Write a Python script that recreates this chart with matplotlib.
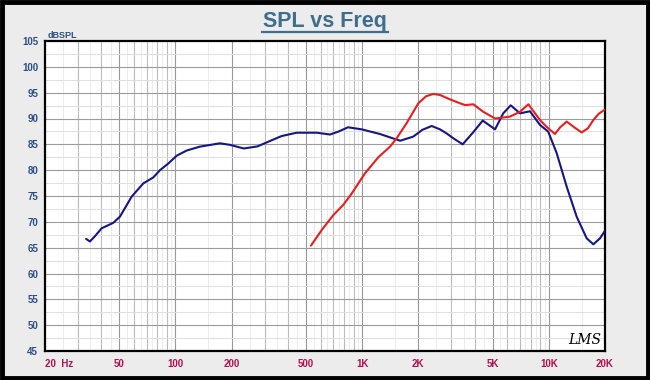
import matplotlib
matplotlib.use("Agg")
import matplotlib.pyplot as plt
import numpy as np
from matplotlib.lines import Line2D
from matplotlib.patches import Rectangle

# ---- data ----
woofer_freq = [33.2, 34.8, 37, 40.2, 46.4, 50.4, 58.3, 67.3, 76.1, 82.6, 91.6, 101.5,
               114.8, 135, 173, 196, 232, 275, 321, 370, 446, 571, 673, 750, 840, 994,
               1246, 1450, 1600, 1880, 2100, 2358, 2613, 2838, 3100, 3456, 3950, 4425,
               5152, 5700, 6250, 7010, 7930, 8970, 9930, 11020, 12470, 14100, 15960,
               17320, 18800, 20000]
woofer_db = [66.7, 66.2, 67.2, 68.75, 69.8, 71.0, 74.9, 77.45, 78.6, 80.0, 81.3, 82.8,
             83.8, 84.55, 85.2, 84.9, 84.2, 84.6, 85.65, 86.6, 87.25, 87.25, 86.9, 87.5,
             88.3, 87.9, 87.0, 86.2, 85.7, 86.5, 87.8, 88.55, 87.9, 87.1, 86.1, 85.0,
             87.4, 89.6, 87.9, 91.0, 92.55, 91.0, 91.4, 88.75, 87.45, 83.3, 76.8, 71.0,
             66.8, 65.65, 66.8, 68.3]

tweeter_freq = [532, 607, 701, 793, 880, 1036, 1221, 1410, 1532, 1731, 2000, 2200, 2406,
                2613, 2955, 3343, 3557, 3941, 4457, 5152, 6180, 7010, 7770, 8970, 9720,
                10790, 11500, 12470, 13800, 15000, 16200, 17320, 18500, 19800, 20000]
tweeter_db = [65.4, 68.4, 71.3, 73.3, 75.5, 79.4, 82.5, 84.55, 86.2, 89.1, 92.95, 94.3,
              94.75, 94.55, 93.7, 92.95, 92.6, 92.75, 91.3, 90.0, 90.35, 91.3, 92.75,
              89.7, 88.4, 87.0, 88.3, 89.4, 88.2, 87.3, 88.1, 89.7, 90.9, 91.65, 91.7]

x_ticks = [20, 50, 100, 200, 500, 1000, 2000, 5000, 10000, 20000]
x_labels = ["20  Hz", "50", "100", "200", "500", "1K", "2K", "5K", "10K", "20K"]
y_ticks = list(range(45, 106, 5))

# ---- figure ----
W, H = 650, 380
fig = plt.figure(figsize=(W / 100, H / 100), dpi=100, facecolor="#ECECEC")
fig.add_artist(Rectangle((0.003, 0.004), 0.994, 0.992, transform=fig.transFigure,
                         fill=False, edgecolor="black", linewidth=3.5))

ax = fig.add_axes([45 / W, 1 - 351 / H, 560 / W, 310 / H])
ax.set_facecolor("white")
ax.set_xscale("log")
ax.set_xlim(20, 20000)
ax.set_ylim(45, 105)

# grid
for dec in [10, 100, 1000, 10000]:
    for n in np.arange(1.5, 10, 1.0):
        f = n * dec
        if 20 < f < 20000:
            ax.axvline(f, color="#ececec", lw=0.7, zorder=0)
    for n in range(1, 10):
        f = n * dec
        if 20 < f < 20000:
            c = "#999999" if n in (1, 2, 5) else "#bdbdbd"
            ax.axvline(f, color=c, lw=0.8, zorder=0)
for y in np.arange(47.5, 105, 5):
    ax.axhline(y, color="#e0e0e0", lw=0.7, zorder=0)
for y in range(50, 105, 5):
    ax.axhline(y, color="#9c9c9c", lw=0.8, zorder=0)

ax.plot(woofer_freq, woofer_db, color="#16168a", lw=1.5, zorder=3,
        solid_joinstyle="round", solid_capstyle="round")
ax.plot(tweeter_freq, tweeter_db, color="#ee1c1c", lw=1.5, zorder=4,
        solid_joinstyle="round", solid_capstyle="round")

for s in ax.spines.values():
    s.set_color("black")
    s.set_linewidth(1.6)

ax.set_xticks(x_ticks)
ax.set_xticklabels(x_labels)
ax.xaxis.set_minor_locator(matplotlib.ticker.NullLocator())
ax.set_yticks(y_ticks)
ax.tick_params(axis="both", length=0)
ax.tick_params(axis="x", pad=6, labelsize=7, labelcolor="#b5104e")
ax.tick_params(axis="y", pad=5, labelsize=7, labelcolor="#2c4f86")
for lab in ax.get_xticklabels():
    lab.set_fontweight("bold")
    lab.set_family("Liberation Sans")
for lab in ax.get_yticklabels():
    lab.set_fontweight("bold")
    lab.set_family("Liberation Sans")
ax.get_xticklabels()[0].set_horizontalalignment("left")

# y axis unit label
fig.text(48 / W, 1 - 36 / H, "dBSPL", fontsize=6.5, fontweight="bold",
         color="#2c4f86", family="Liberation Sans", ha="left", va="center")

# title with underline
t = fig.text(0.5, 1 - 21 / H, "SPL vs Freq", fontsize=15.5, fontweight="bold",
             color="#3f6e8c", family="Liberation Sans", ha="center", va="center")
fig.add_artist(Line2D([262 / W, 388 / W], [1 - 32 / H, 1 - 32 / H],
                      transform=fig.transFigure, color="#3f6e8c", lw=1.6))

# signature
fig.text(585 / W, 1 - 340 / H, "LMS", fontsize=10, fontstyle="italic",
         family="DejaVu Serif", color="black", ha="center", va="center")

fig.savefig("out.png", dpi=100, facecolor=fig.get_facecolor())
